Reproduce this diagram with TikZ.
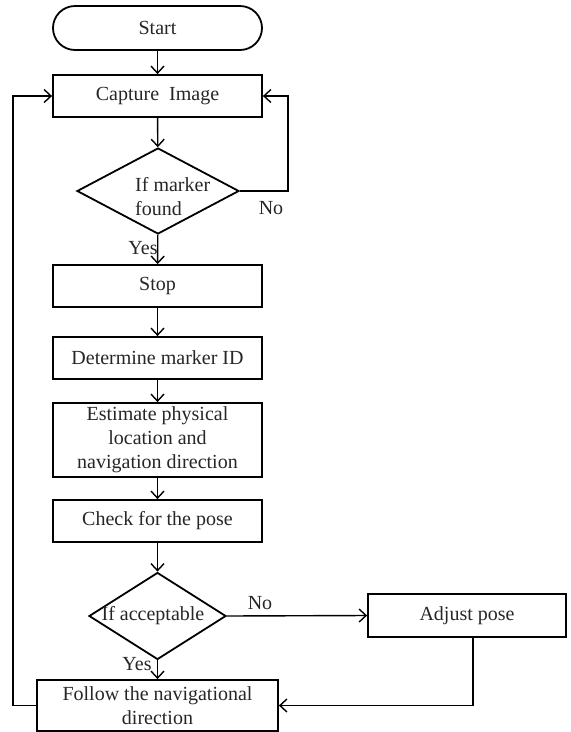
\documentclass[tikz,border=0pt]{standalone}
\usepackage{fontspec}
\setmainfont{Liberation Serif}
\usetikzlibrary{shapes.geometric,arrows.meta}
\begin{document}
\begin{tikzpicture}[x=1pt,y=-1pt,
  every node/.style={font=\fontsize{20}{24}\selectfont, text=black!85},
  box/.style={draw=black, line width=1.8pt, rectangle, inner sep=0pt, align=center},
  term/.style={draw=black, line width=1.8pt, rectangle, rounded corners=22pt, inner sep=0pt},
  dia/.style={draw=black, line width=1.8pt, diamond, inner sep=0pt},
  lbl/.style={inner sep=0pt},
  arr/.style={line width=1.4pt, -{Straight Barb[length=7pt,width=13pt,line width=1.4pt]}},
  ln/.style={line width=1.4pt}]
\useasboundingbox (0,0) rectangle (571,732);
% nodes
\node[term, minimum width=209pt, minimum height=44pt] (start) at (157.5,28) {Start};
\node[box, minimum width=209pt, minimum height=42pt] (cap) at (157.5,96) {Capture\ \ Image};
\node[dia, minimum width=162pt, minimum height=86pt] (d1) at (158,191) {};
\node[lbl, align=left, anchor=west] (d1t) at (135,197) {If marker\\found};
\node[box, minimum width=209pt, minimum height=42pt] (stop) at (157.5,286) {Stop};
\node[box, minimum width=209pt, minimum height=42pt] (det) at (157.5,358) {Determine marker ID};
\node[box, minimum width=209pt, minimum height=74pt] (est) at (157.5,440) {Estimate physical\\location and\\navigation\ direction};
\node[box, minimum width=209pt, minimum height=42pt] (chk) at (157.5,521) {Check\ for the pose};
\node[dia, minimum width=137pt, minimum height=87pt] (d2) at (157.5,616) {};
\node[lbl] (d2t) at (153,616) {If acceptable};
\node[box, minimum width=198pt, minimum height=43pt] (adj) at (467,615.5) {Adjust pose};
\node[box, minimum width=241pt, minimum height=51pt] (fol) at (157.5,705.5) {Follow\ the navigational\\direction};
% labels
\node[lbl] (no1) at (271,208) {No};
\node[lbl] (yes1) at (143,248) {Yes};
\node[lbl] (no2) at (260,603) {No};
\node[lbl] (yes2) at (137,664) {Yes};
% helper coordinates
\coordinate (r1) at (288,191);
\coordinate (l1) at (13,705.5);
% connectors
\draw[arr] (start) -- (cap);
\draw[arr] (cap) -- (d1);
\draw[arr] (d1) -- (stop);
\draw[arr] (stop) -- (det);
\draw[arr] (det) -- (est);
\draw[arr] (est) -- (chk);
\draw[arr] (chk) -- (d2);
\draw[arr] (d2) -- (fol);
\draw[arr] (d2.east) -- (adj.west);
\draw[arr] ([xshift=6pt]adj.south) |- (fol.east);
\draw[arr] (d1.east) -- (r1) |- (cap.east);
\draw[arr] (fol.west) -- (l1) |- (cap.west);
\end{tikzpicture}
\end{document}
